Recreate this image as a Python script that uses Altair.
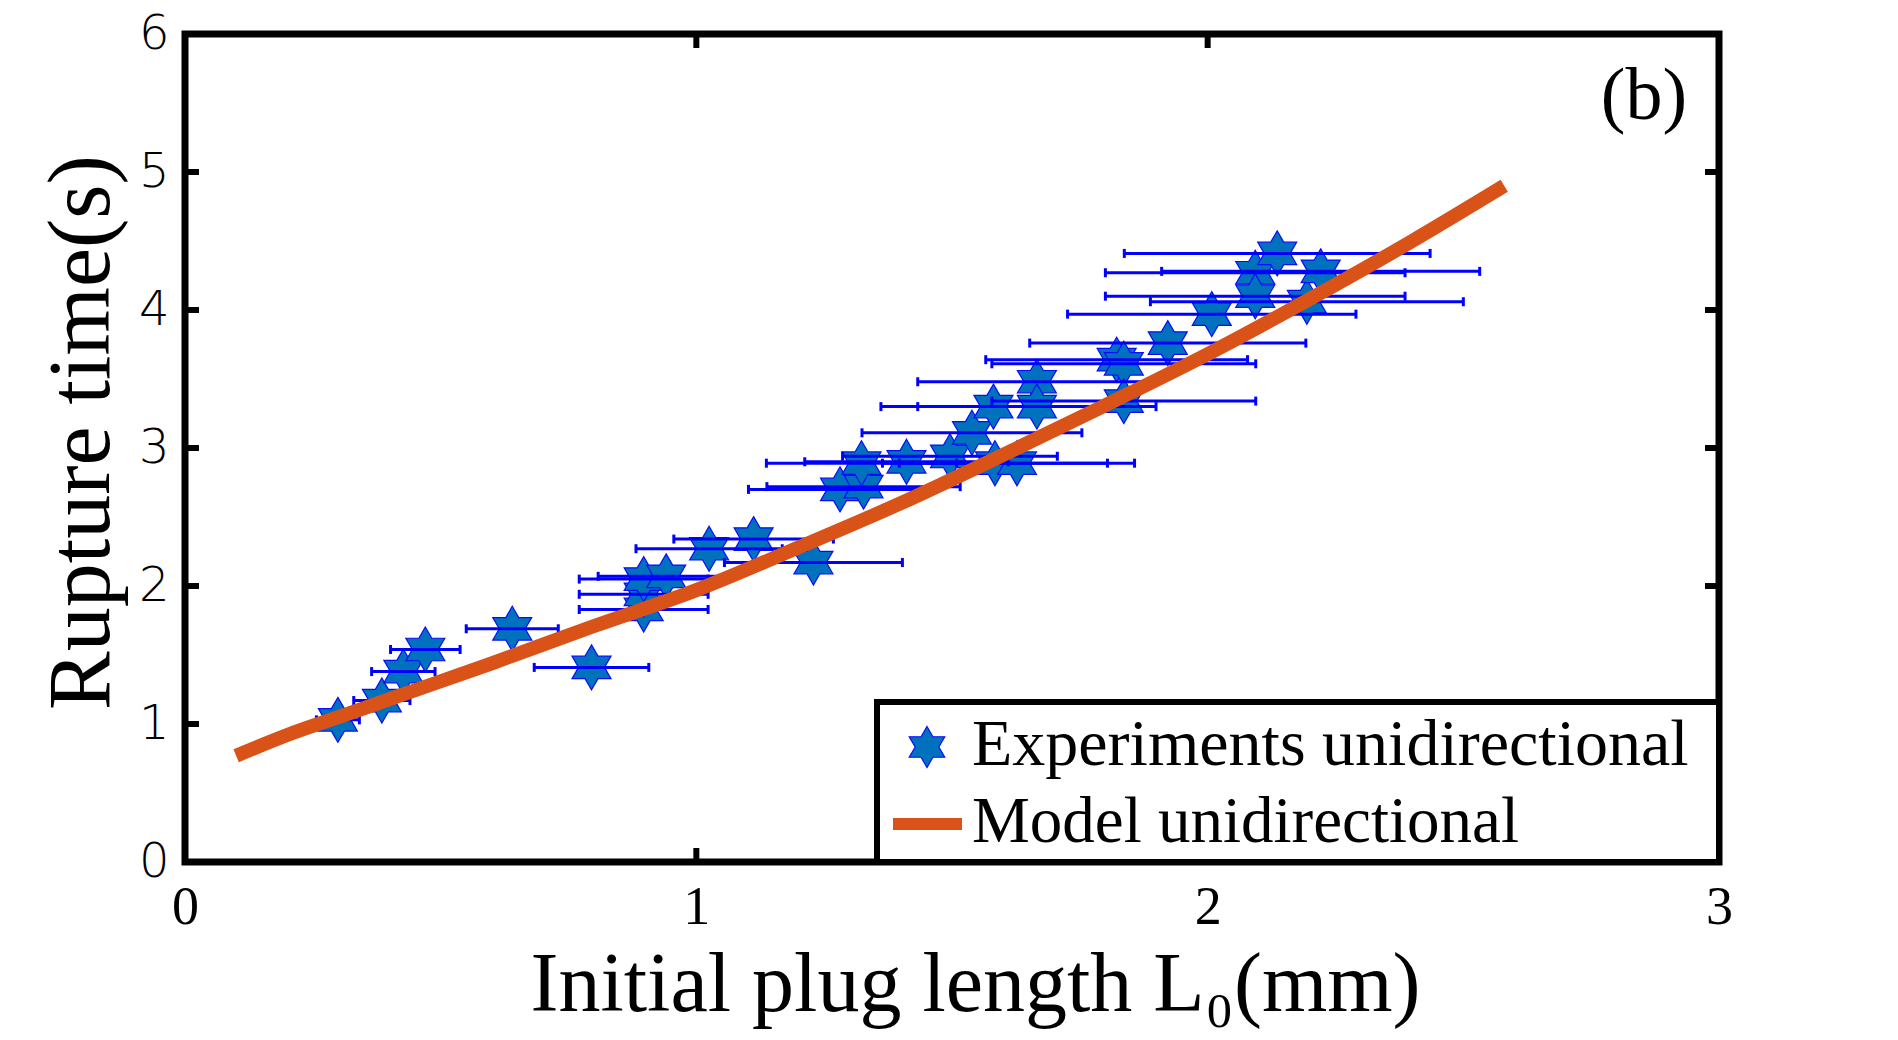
import altair as alt
import pandas as pd

# ---- data ----
L0 = [0.299, 0.385, 0.427, 0.470, 0.640, 0.795, 0.897, 0.897, 0.897, 0.941,
      1.025, 1.112, 1.229, 1.281, 1.327, 1.323, 1.411, 1.496, 1.539, 1.581,
      1.584, 1.627, 1.666, 1.666, 1.822, 1.836, 1.836, 1.922, 2.008, 2.093,
      2.093, 2.136, 2.194, 2.221]
T_rupture = [1.03, 1.17, 1.38, 1.54, 1.69, 1.41, 1.83, 1.94, 2.05, 2.07,
             2.27, 2.34, 2.17, 2.70, 2.72, 2.89, 2.90, 2.94, 3.11, 3.30,
             2.89, 2.89, 3.48, 3.30, 3.64, 3.61, 3.34, 3.76, 3.97, 4.27,
             4.10, 4.41, 4.06, 4.28]
L0_err = [0.042, 0.055, 0.062, 0.068, 0.090, 0.112, 0.126, 0.126, 0.126, 0.133,
          0.143, 0.156, 0.174, 0.179, 0.189, 0.186, 0.199, 0.210, 0.215, 0.220,
          0.220, 0.230, 0.233, 0.233, 0.256, 0.258, 0.258, 0.270, 0.282, 0.293,
          0.293, 0.299, 0.306, 0.311]

model_L0 = [0.10, 0.20, 0.30, 0.40, 0.60, 0.80, 1.00, 1.20, 1.40, 1.60, 1.80, 2.00, 2.20, 2.40, 2.58]
model_T = [0.77, 0.92, 1.05, 1.18, 1.44, 1.71, 1.97, 2.28, 2.60, 2.95, 3.31, 3.68, 4.08, 4.50, 4.90]

x_ticks = [0, 1, 2, 3]
y_ticks = [0, 1, 2, 3, 4, 5, 6]
legend_labels = ["Experiments unidirectional", "Model unidirectional"]
panel_label = "(b)"
x_title = "Initial plug length L\u2080(mm)"
y_title = "Rupture time(s)"

# ---- styling ----
W, H = 1534, 828
STAR = ("M0,-1L0.2887,-0.5L0.866,-0.5L0.5774,0L0.866,0.5L0.2887,0.5L0,1"
        "L-0.2887,0.5L-0.866,0.5L-0.5774,0L-0.866,-0.5L-0.2887,-0.5Z")
STAR_FILL = "#0072BD"
STAR_EDGE = "#0a0aff"
BAR_BLUE = "#0000FF"
ORANGE = "#D95319"
SERIF = "Liberation Serif"

exp = pd.DataFrame({"L0": L0, "T": T_rupture, "err": L0_err})
exp["lo"] = exp["L0"] - exp["err"]
exp["hi"] = exp["L0"] + exp["err"]
model = pd.DataFrame({"L0": model_L0, "T": model_T})

xs = alt.Scale(domain=[0, 3], nice=False, zero=False)
ys = alt.Scale(domain=[0, 6], nice=False, zero=False)

x_axis = alt.Axis(
    values=x_ticks, format="d", ticks=False, domain=False, grid=False,
    labelFont=SERIF, labelFontSize=54, labelPadding=18, labelColor="black",
    labelFlush=False, labelOverlap=False,
    title=x_title, titleFont=SERIF, titleFontSize=84, titleFontWeight="normal",
    titleColor="black", titleBaseline="alphabetic", titleAlign="center",
    titleX=790, titleY=148,
)
y_axis = alt.Axis(
    values=y_ticks, format="d", ticks=False, domain=False, grid=False,
    labelFont="DejaVu Sans", labelFontSize=48, labelFontWeight=200,
    labelPadding=16, labelColor="black",
    labelFlush=False, labelOverlap=False, labelBaseline="middle",
    title=y_title, titleFont=SERIF, titleFontSize=88, titleFontWeight="normal",
    titleColor="black", titleAngle=270, titleBaseline="alphabetic",
    titleAlign="center", titleX=-77, titleY=398,
)


def X(field):
    return alt.X(field, scale=xs, axis=x_axis, title=x_title)


def Y(field):
    return alt.Y(field, scale=ys, axis=y_axis, title=y_title)


stars = alt.Chart(exp).mark_point(
    shape=STAR, size=2025, filled=True, fill=STAR_FILL, stroke=STAR_EDGE,
    strokeWidth=1.2, opacity=1,
).encode(x=X("L0:Q"), y=Y("T:Q"))

bars = alt.Chart(exp).mark_rule(color=BAR_BLUE, strokeWidth=3).encode(
    x=X("lo:Q"), x2="hi:Q", y=Y("T:Q"))
cap_lo = alt.Chart(exp).mark_tick(orient="vertical", color=BAR_BLUE, size=9,
                                  thickness=3, opacity=1).encode(x=X("lo:Q"), y=Y("T:Q"))
cap_hi = alt.Chart(exp).mark_tick(orient="vertical", color=BAR_BLUE, size=9,
                                  thickness=3, opacity=1).encode(x=X("hi:Q"), y=Y("T:Q"))

line = alt.Chart(model).mark_line(color=ORANGE, strokeWidth=14, strokeCap="butt",
                                  interpolate="monotone").encode(x=X("L0:Q"), y=Y("T:Q"))

# inward ticks on all four sides
ydf = pd.DataFrame({"v": y_ticks})
xdf = pd.DataFrame({"v": x_ticks})
tick_style = dict(color="black", size=14, thickness=6, opacity=1)
t_left = alt.Chart(ydf).mark_tick(orient="horizontal", **tick_style).encode(
    y=Y("v:Q"), x=alt.value(7))
t_right = alt.Chart(ydf).mark_tick(orient="horizontal", **tick_style).encode(
    y=Y("v:Q"), x=alt.value(W - 7))
t_bottom = alt.Chart(xdf).mark_tick(orient="vertical", **tick_style).encode(
    x=X("v:Q"), y=alt.value(H - 7))
t_top = alt.Chart(xdf).mark_tick(orient="vertical", **tick_style).encode(
    x=X("v:Q"), y=alt.value(7))

# legend box
one = pd.DataFrame({"a": [0]})
leg_box = alt.Chart(one).mark_rect(fill="white", stroke="black", strokeWidth=6).encode(
    x=alt.value(692), x2=alt.value(W), y=alt.value(668), y2=alt.value(H))
leg_star = alt.Chart(one).mark_point(
    shape=STAR, size=1681, filled=True, fill=STAR_FILL, stroke=STAR_EDGE,
    strokeWidth=1.2, opacity=1).encode(x=alt.value(742), y=alt.value(713))
leg_line = alt.Chart(one).mark_rule(color=ORANGE, strokeWidth=12, strokeCap="butt").encode(
    x=alt.value(708), x2=alt.value(777), y=alt.value(790))
leg_t1 = alt.Chart(pd.DataFrame({"t": [legend_labels[0]]})).mark_text(
    font=SERIF, fontSize=66, align="left", baseline="alphabetic", color="black").encode(
    text="t:N", x=alt.value(787), y=alt.value(731))
leg_t2 = alt.Chart(pd.DataFrame({"t": [legend_labels[1]]})).mark_text(
    font=SERIF, fontSize=65, align="left", baseline="alphabetic", color="black").encode(
    text="t:N", x=alt.value(787), y=alt.value(808))

panel = alt.Chart(pd.DataFrame({"t": [panel_label]})).mark_text(
    font=SERIF, fontSize=74, align="center", baseline="middle", color="black").encode(
    text="t:N", x=alt.value(1459), y=alt.value(63))

chart = alt.layer(
    stars, bars, cap_lo, cap_hi, line,
    t_left, t_right, t_bottom, t_top,
    leg_box, leg_star, leg_line, leg_t1, leg_t2, panel,
).properties(
    width=W, height=H,
    padding={"left": 185, "top": 34, "right": 179, "bottom": 178},
    autosize=alt.AutoSizeParams(type="none"),
    background="white",
).configure_view(
    stroke="black", strokeWidth=7,
)

chart.save("out.html", embed_options={"renderer": "svg", "actions": False})
